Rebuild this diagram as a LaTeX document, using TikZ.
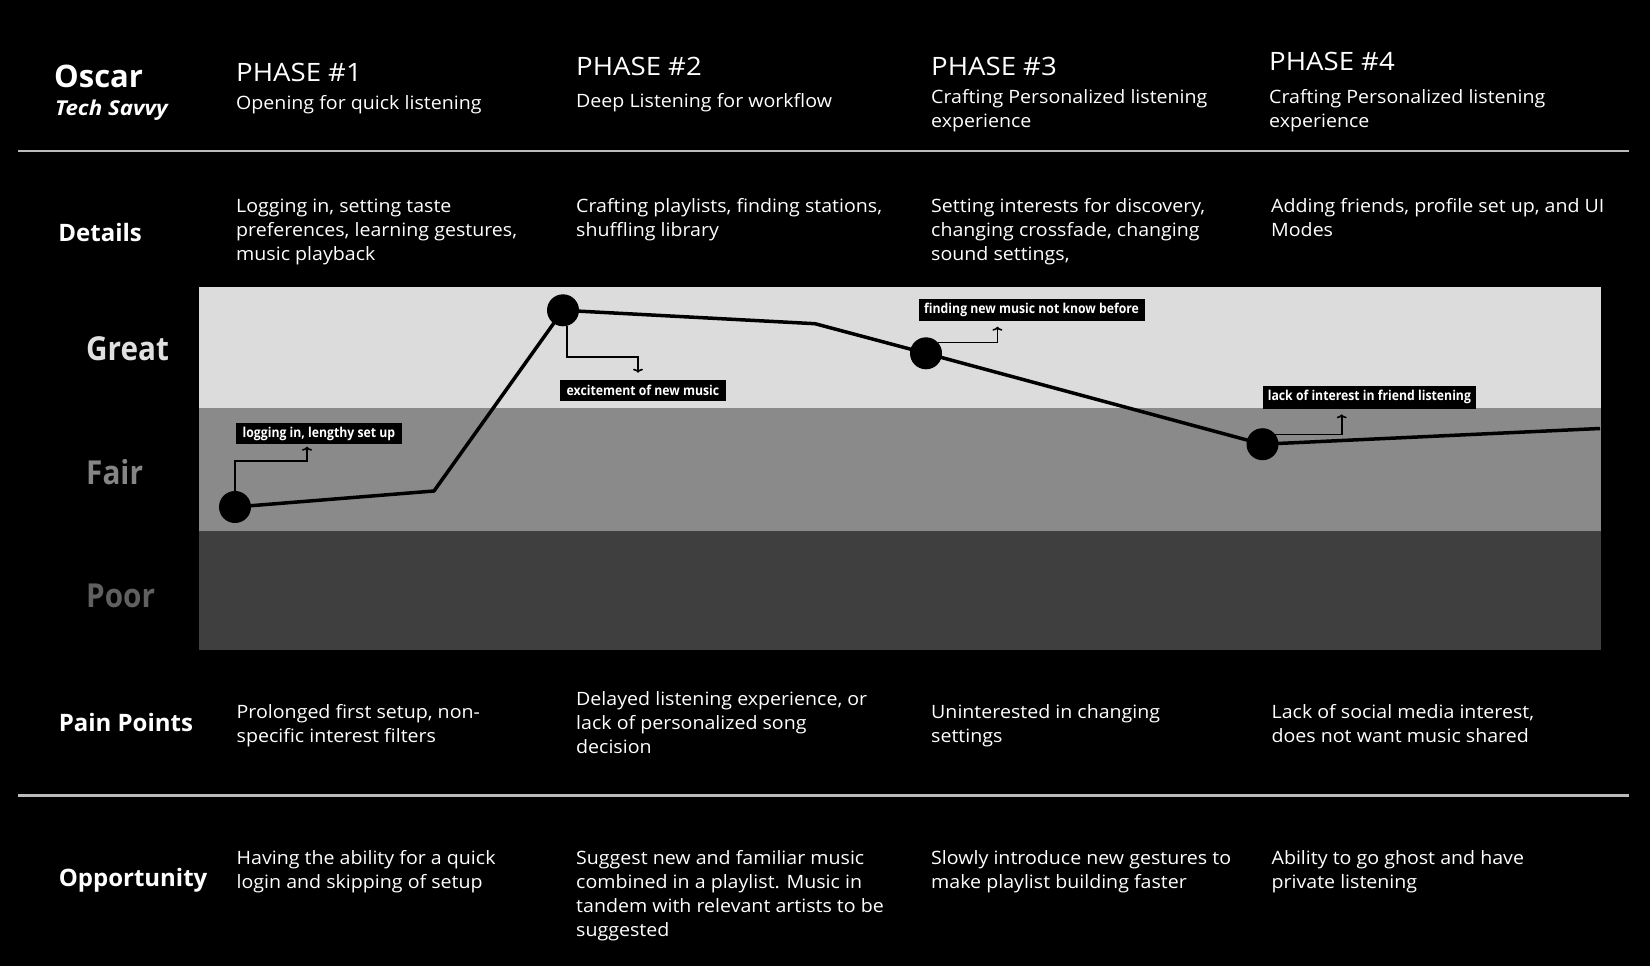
\documentclass[tikz,border=0pt]{standalone}
\usepackage{fontspec}
\setmainfont{Open Sans}[FakeStretch=1.065]
\newfontfamily\plainfont{Open Sans}
\newfontfamily\condfont{Open Sans}[FakeStretch=0.9]
\newfontfamily\phasefont{Open Sans}[FakeStretch=1.09]
\usetikzlibrary{arrows.meta}
\definecolor{greatband}{HTML}{DCDCDC}
\definecolor{fairband}{HTML}{8A8A8A}
\definecolor{poorband}{HTML}{3F3F3F}
\definecolor{greattxt}{HTML}{E0E0E0}
\definecolor{fairtxt}{HTML}{858585}
\definecolor{poortxt}{HTML}{606060}
\definecolor{rule}{HTML}{BBBBBB}
\newcommand{\ml}[1]{\parbox[t]{420pt}{\raggedright #1}}
\tikzset{
  body/.style={anchor=base west, inner sep=0pt, text=white, font=\fontsize{18.4}{24.2}\selectfont},
  phasett/.style={anchor=base west, inner sep=0pt, text=white, font=\phasefont\fontsize{25.3}{30}\selectfont},
  rowlab/.style={anchor=base west, inner sep=0pt, text=white, font=\plainfont\bfseries\fontsize{24}{30}\selectfont},
  level/.style={anchor=base west, inner sep=0pt, font=\condfont\bfseries\fontsize{33}{40}\selectfont},
  callout/.style={anchor=north west, fill=black, text=white, inner sep=0pt, font=\condfont\bfseries\fontsize{13.6}{16}\selectfont, align=center},
  dot/.style={circle, fill=black, minimum size=32pt, inner sep=0pt},
  curve/.style={line width=3.5pt, line join=round},
  lead/.style={line width=1.6pt, -{To[length=4pt,width=10pt]}},
  hrule/.style={draw=rule, line width=2.2pt}
}
\begin{document}
\begin{tikzpicture}[x=1pt, y=-1pt]
\fill[black] (0,0) rectangle (1650,966);
\useasboundingbox (0,0) rectangle (1650,966);

% rules
\coordinate (r1a) at (18,151); \coordinate (r1b) at (1629,151);
\coordinate (r2a) at (18,795.5); \coordinate (r2b) at (1629,795.5);
\draw[hrule] (r1a) -- (r1b);
\draw[hrule] (r2a) -- (r2b);

% header
\node[anchor=base west, inner sep=0pt, text=white, font=\plainfont\bfseries\fontsize{31}{36}\selectfont] (oscar) at (54,87.3) {Oscar};
\node[anchor=base west, inner sep=0pt, text=white, font=\phasefont\bfseries\itshape\fontsize{20.5}{26}\selectfont] (savvy) at (55,115) {Tech Savvy};

\node[phasett] (ph1) at (236,81.7) {PHASE \#1};
\node[body] (ph1s) at (236,110) {\ml{Opening for quick listening}};
\node[phasett] (ph2) at (576,76) {PHASE \#2};
\node[body] (ph2s) at (576,107.5) {\ml{Deep Listening for workflow}};
\node[phasett] (ph3) at (931,76) {PHASE \#3};
\node[body] (ph3s) at (931,103.5) {\ml{Crafting Personalized listening\\experience}};
\node[phasett] (ph4) at (1269,70.7) {PHASE \#4};
\node[body] (ph4s) at (1269,103.5) {\ml{Crafting Personalized listening\\experience}};

% details
\node[rowlab] (det) at (58.2,241.7) {Details};
\node[body] (det1) at (236,212.3) {\ml{Logging in, setting taste\\preferences, learning gestures,\\music playback}};
\node[body] (det2) at (576,212.3) {\ml{Crafting playlists, finding stations,\\shuffling library}};
\node[body] (det3) at (931,212.3) {\ml{Setting interests for discovery,\\changing crossfade, changing\\sound settings,}};
\node[body] (det4) at (1271,212.3) {\ml{Adding friends, profile set up, and UI\\Modes}};

% chart bands
\fill[greatband] (198.5,287.3) rectangle (1601,408.3);
\fill[fairband] (198.5,408.3) rectangle (1601,530.7);
\fill[poorband] (198.5,530.7) rectangle (1601,650);

\node[level, text=greattxt] (great) at (86,360.7) {Great};
\node[level, text=fairtxt] (fair) at (86,484) {Fair};
\node[level, text=poortxt] (poor) at (86,607.3) {Poor};

% curve
\node[dot] (d1) at (235,507) {};
\coordinate (k1) at (434,491);
\node[dot] (d2) at (563,310.3) {};
\coordinate (k2) at (815,323.7);
\node[dot] (d3) at (926,353.3) {};
\node[dot] (d4) at (1262.5,444.2) {};
\coordinate (kend) at (1600,428.5);
\draw[curve] (d1.center) -- (k1) -- (d2.center) -- (k2) -- (d3.center) -- (d4.center) -- (kend);

% callouts
\node[callout, minimum width=166pt, minimum height=21.3pt] (c1) at (235.7,422.7) {logging in, lengthy set up};
\node[callout, minimum width=165.3pt, minimum height=21.4pt] (c2) at (560.1,379.3) {excitement of new music};
\node[callout, minimum width=226pt, minimum height=22.4pt] (c3) at (918.4,298.3) {finding new music not know before};
\node[callout, minimum width=213pt, minimum height=22.3pt] (c4) at (1262.7,386) {lack of interest in friend listening};

\coordinate (t1) at (307,446.7);
\coordinate (t2) at (638,372.7);
\coordinate (t3) at (997.4,326.7);
\coordinate (t4) at (1341.7,414.3);
\coordinate (s2) at (566.7,326);
\draw[lead] (d1.north) |- (307,461) -- (t1);
\draw[lead] (s2) |- (638,357) -- (t2);
\draw[lead] (d3.42) -| (t3);
\draw[lead] (d4.37) -| (t4);

% pain points
\node[rowlab] (pain) at (58.6,731) {Pain Points};
\node[body] (pp1) at (236.5,718.3) {\ml{Prolonged first setup, non-\\specific interest filters}};
\node[body] (pp2) at (576,705) {\ml{Delayed listening experience, or\\lack of personalized song\\decision}};
\node[body] (pp3) at (931,718.3) {\ml{Uninterested in changing\\settings}};
\node[body] (pp4) at (1271.4,718.3) {\ml{Lack of social media interest,\\does not want music shared}};

% opportunity
\node[rowlab] (opp) at (58.6,886) {Opportunity};
\node[body] (op1) at (236.5,864) {\ml{Having the ability for a quick\\login and skipping of setup}};
\node[body] (op2) at (576,864) {\ml{Suggest new and familiar music\\combined in a playlist. Music in\\tandem with relevant artists to be\\suggested}};
\node[body] (op3) at (931,864) {\ml{Slowly introduce new gestures to\\make playlist building faster}};
\node[body] (op4) at (1271.4,864) {\ml{Ability to go ghost and have\\private listening}};
\end{tikzpicture}
\end{document}
